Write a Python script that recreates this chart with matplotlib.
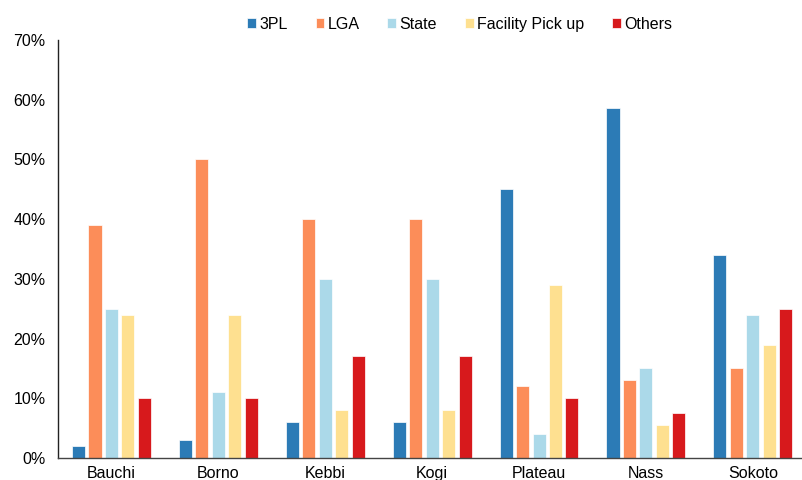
import numpy as np
import matplotlib
matplotlib.use('Agg')
import matplotlib.pyplot as plt
from matplotlib.ticker import PercentFormatter

plt.rcParams['font.family'] = ['Liberation Sans', 'DejaVu Sans']

# Share of distribution channel by state (%)
states = ['Bauchi', 'Borno', 'Kebbi', 'Kogi', 'Plateau', 'Nass', 'Sokoto']
channels = ['3PL', 'LGA', 'State', 'Facility Pick up', 'Others']
tpl = [2, 3, 6, 6, 45, 58.6, 34]
lga = [39, 50, 40, 40, 12, 13, 15]
state = [25, 11, 30, 30, 4, 15, 24]
facility = [24, 24, 8, 8, 29, 5.5, 19]
others = [10, 10, 17, 17, 10, 7.5, 25]
colors = ['#2c7bb6', '#fc8d59', '#abd9e9', '#fee090', '#d7191c']

series = [tpl, lga, state, facility, others]

fig = plt.figure(figsize=(8.02, 4.8), dpi=100)
ax = fig.add_axes([58 / 802, 22 / 480, 1 - 58 / 802, 418 / 480])

x = np.arange(len(states))
step = 0.154
width = 0.122
for i, (vals, name, col) in enumerate(zip(series, channels, colors)):
    ax.bar(x + (i - 2) * step, vals, width, color=col, label=name,
           edgecolor='white', linewidth=0.5)

ax.set_xlim(-0.5, 6.46)
ax.set_ylim(0, 70)
ax.set_yticks(range(0, 71, 10))
ax.yaxis.set_major_formatter(PercentFormatter(decimals=0))
ax.set_xticks(x)
ax.set_xticklabels(states)
ax.tick_params(axis='both', length=0, labelsize=11.5)
ax.tick_params(axis='y', pad=9)
ax.tick_params(axis='x', pad=6)

for s in ['top', 'right']:
    ax.spines[s].set_visible(False)
ax.spines['left'].set_color('#222222')
ax.spines['bottom'].set_color('#444444')
ax.spines['left'].set_linewidth(1)
ax.spines['bottom'].set_linewidth(1)

fig.legend(loc='upper center', bbox_to_anchor=(0.573, 0.995), ncol=5, frameon=False,
           fontsize=11.5, handlelength=0.55, handleheight=0.55, handletextpad=0.2,
           columnspacing=1.75)

fig.savefig('out.png', dpi=100)
